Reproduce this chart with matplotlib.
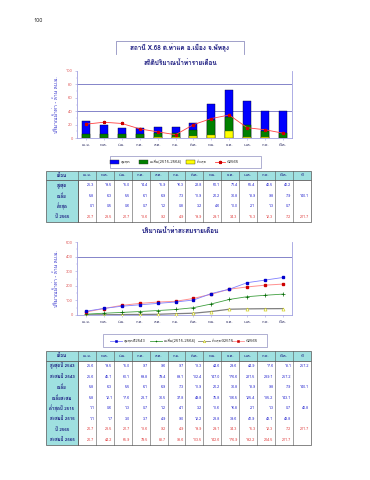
import numpy as np
import matplotlib
matplotlib.use("Agg")
import matplotlib.pyplot as plt
from matplotlib import font_manager as fm
from matplotlib.patches import Rectangle
from matplotlib.ft2font import FT2Font

# ---------------- data ----------------
months = ["เม.ย.", "พ.ค.", "มิ.ย.", "ก.ค.", "ส.ค.", "ก.ย.", "ต.ค.", "พ.ย.", "ธ.ค.", "ม.ค.", "ก.พ.", "มี.ค."]
max_monthly = [25.3, 19.5, 15.0, 14.4, 15.9, 16.3, 22.8, 50.1, 71.4, 55.4, 40.5, 40.2]
mean_monthly = [5.8, 6.3, 5.5, 6.1, 6.9, 7.3, 11.9, 26.2, 30.8, 18.9, 9.8, 7.9]
min_monthly = [0.1, 0.5, 0.6, 0.7, 1.2, 0.8, 3.2, 4.6, 10.0, 2.1, 1.3, 0.7]
y2565 = [20.7, 23.5, 21.7, 13.6, 9.2, 4.9, 19.9, 29.1, 34.3, 15.3, 12.3, 7.2]
mean_year = 140.1
y2565_year = 211.7

max2543 = [25.6, 19.5, 15.0, 9.7, 9.6, 9.7, 13.3, 44.6, 29.6, 44.9, 17.6, 18.1]
cum2543 = [25.6, 45.1, 60.1, 69.8, 79.4, 89.1, 102.4, 147.0, 176.6, 221.5, 239.1, 257.2]
cum_mean = [5.8, 12.1, 17.6, 23.7, 30.5, 37.8, 49.8, 75.8, 106.5, 125.4, 135.2, 143.1]
min2515 = [1.1, 0.6, 1.3, 0.7, 1.2, 4.1, 3.2, 11.6, 16.8, 2.1, 1.3, 0.7]
cum2515 = [1.1, 1.7, 3.0, 3.7, 4.9, 9.0, 12.2, 23.8, 39.6, 41.9, 43.1, 43.8]
cum2565 = [20.7, 44.2, 65.9, 79.5, 88.7, 93.6, 113.5, 142.6, 176.9, 192.2, 204.5, 211.7]
year2543 = 257.2
year2515 = 40.8

table1_labels = ["สูงสุด", "เฉลี่ย", "ต่ำสุด", "ปี 2565"]
table2_labels = ["สูงสุดปี 2543", "สะสมปี 2543", "เฉลี่ย", "เฉลี่ยสะสม",
                 "ต่ำสุดปี 2515", "สะสมปี 2515", "ปี 2565", "สะสมปี 2565"]

# ---------------- fonts ----------------
def find_thai_font():
    prefs = []
    for f in fm.fontManager.ttflist:
        try:
            cm = FT2Font(f.fname).get_charmap()
        except Exception:
            continue
        if 0x0E01 in cm and 0x0E31 in cm:
            prefs.append(f.name)
    for p in prefs:
        if "Thai" in p or "Tlwg" in p or "Loma" in p or "Garuda" in p:
            return p
    return prefs[0] if prefs else None

thai = find_thai_font()
fams = ([thai] if thai else []) + ["DejaVu Sans"]
plt.rcParams["font.family"] = fams

W, H = 370, 480
fig = plt.figure(figsize=(W / 100, H / 100), dpi=100)
fig.patch.set_facecolor("white")

def fx(x):
    return x / W

def fy(y):
    return 1 - y / H

ov = fig.add_axes([0, 0, 1, 1], zorder=5)
ov.set_xlim(0, W)
ov.set_ylim(H, 0)
ov.axis("off")
ov.patch.set_alpha(0)

navy = "#1a1a80"
ov.text(33, 21, "100", fontsize=4, color="#333333", ha="left", va="center")
ov.plot([116, 116, 244, 244], [54, 41, 41, 54], color="#9090c0", lw=0.6)
ov.text(180, 47.5, "สถานี X.68 ต.ท่าแค อ.เมือง จ.พัทลุง", fontsize=4.6, color=navy,
        ha="center", va="center", fontweight="bold")
ov.text(180, 63, "สถิติปริมาณน้ำท่ารายเดือน", fontsize=4.6, color=navy,
        ha="center", va="center", fontweight="bold")
ov.text(180, 231, "ปริมาณน้ำท่าสะสมรายเดือน", fontsize=4.6, color=navy,
        ha="center", va="center", fontweight="bold")

axis_col = "#a0a0e0"
grid_col = "#7070c0"
tick_col = "#e06060"

def style_axes(ax, ymax, step, glines):
    ax.set_xlim(-0.5, 11.5)
    ax.set_ylim(0, ymax)
    ax.set_yticks(np.arange(0, ymax + 1, step))
    ax.set_yticks(np.arange(0, ymax + 1, step / 2), minor=True)
    ax.spines["top"].set_visible(False)
    for s in ["left", "right", "bottom"]:
        ax.spines[s].set_color(axis_col)
        ax.spines[s].set_linewidth(0.6)
    for g in glines:
        ax.axhline(g, color=grid_col, lw=0.6, zorder=0)
    ax.set_xticks(range(12))
    ax.set_xticklabels(months)
    ax.tick_params(axis="y", labelsize=3, colors=tick_col, length=1.5, width=0.4, pad=1.5)
    ax.tick_params(axis="y", which="minor", length=1, width=0.3, color=axis_col)
    ax.tick_params(axis="x", labelsize=3, colors="#333366", length=1.5, width=0.4, pad=2)
    ax.tick_params(axis="both", color=axis_col)
    ax.set_ylabel("ปริมาณน้ำท่า - ล้าน ลบ.ม.", fontsize=3.6, color="#3333cc", labelpad=5)
    ax.patch.set_alpha(0)

# ---------------- chart 1 ----------------
ax1 = fig.add_axes([fx(77), fy(138), fx(292 - 77), (138 - 71) / H])
x = np.arange(12)
bw = 0.45
ax1.bar(x, max_monthly, width=bw, color="#0000ff", edgecolor="#000033", lw=0.3, zorder=2)
ax1.bar(x, mean_monthly, width=bw, color="#008000", edgecolor="#002200", lw=0.3, zorder=3)
ax1.bar(x, min_monthly, width=bw, color="#ffff00", edgecolor="#666600", lw=0.3, zorder=4)
ax1.plot(x, y2565, color="#ff4040", lw=0.6, marker="*", ms=2.2, mfc="#cc0000",
         mec="#cc0000", zorder=5)
style_axes(ax1, 100, 20, [40, 80])

ov.add_patch(Rectangle((110, 156), 151, 12, fill=False, ec="#9090c0", lw=0.5))
leg1 = [("patch", "#0000ff", "สูงสุด", 120),
        ("patch", "#008000", "เฉลี่ย(2515-2564)", 149),
        ("patch", "#ffff00", "ต่ำสุด", 196),
        ("line", "#ff4040", "ปี2565", 226)]
for kind, c, lab, lx in leg1:
    if kind == "patch":
        ov.add_patch(Rectangle((lx - 10, 159.5), 9, 4.5, fc=c, ec="#333333", lw=0.3))
    else:
        ov.plot([lx - 11, lx - 1], [162, 162], color=c, lw=0.6)
        ov.plot([lx - 6], [162], marker="*", ms=2.2, color="#cc0000")
    ov.text(lx + 0.5, 162, lab, fontsize=3, color="#333333", ha="left", va="center")

# ---------------- chart 2 ----------------
ax2 = fig.add_axes([fx(77), fy(315), fx(292 - 77), (315 - 242) / H])
ax2.plot(x, cum2515, color="#808080", lw=0.9, marker="^", ms=2.2, mfc="white",
         mec="#c8c800", mew=0.4, zorder=3)
ax2.plot(x, cum_mean, color="#40a040", lw=0.6, marker="+", ms=2.2, mec="#006600",
         mew=0.5, zorder=4)
ax2.plot(x, cum2565, color="#ff9090", lw=0.7, marker="s", ms=1.6, mfc="#cc0000",
         mec="#cc0000", zorder=5)
ax2.plot(x, cum2543, color="#8080ff", lw=0.6, marker="s", ms=1.6, mfc="#0000cc",
         mec="#0000cc", zorder=6)
style_axes(ax2, 500, 100, [400])

ov.add_patch(Rectangle((103, 334), 164, 13, fill=False, ec="#9090c0", lw=0.5))
leg2 = [("#8080ff", "s", "#0000cc", "white", "สูงสุดปี2543", 124),
        ("#40a040", "+", "#006600", "none", "เฉลี่ย(2515-2564)", 164),
        ("#808080", "^", "#c8c800", "white", "ต่ำสุดปี2515", 212),
        ("#ff9090", "s", "#cc0000", "#cc0000", "ปี2565", 246)]
for lc, mk, mc, mf, lab, lx in leg2:
    ov.plot([lx - 14, lx - 2], [340.5, 340.5], color=lc, lw=0.6)
    ov.plot([lx - 8], [340.5], marker=mk, ms=1.8, mec=mc,
            mfc=(mc if mk == "s" else mf), mew=0.4)
    ov.text(lx, 340.5, lab, fontsize=3, color="#333333", ha="left", va="center")

# ---------------- tables ----------------
head_bg = "#9fe0e0"
border = "#555555"
x0, lab_w, col_w = 46, 32, 17.9

def fmt(v):
    return "" if v is None else f"{v:.1f}"

def draw_table(top, head_h, row_h, labels, rows, row_colors, year_vals, year_rows):
    ncol = 13
    total_w = lab_w + col_w * ncol
    nrows = len(labels)
    ov.add_patch(Rectangle((x0, top), total_w, head_h, fc=head_bg, ec=border, lw=0.5))
    ov.add_patch(Rectangle((x0, top + head_h), lab_w, row_h * nrows, fc=head_bg, ec=border, lw=0.5))
    ov.add_patch(Rectangle((x0 + lab_w, top + head_h), col_w * ncol, row_h * nrows,
                           fc="white", ec=border, lw=0.5))
    ov.text(x0 + lab_w / 2, top + head_h / 2, "เดือน", fontsize=3.2, color=navy,
            ha="center", va="center", fontweight="bold")
    heads = months + ["ปี"]
    for j, hname in enumerate(heads):
        cx = x0 + lab_w + col_w * j
        ov.plot([cx, cx], [top, top + head_h + row_h * nrows], color=border, lw=0.4)
        ov.text(cx + col_w / 2, top + head_h / 2, hname, fontsize=3, color=navy,
                ha="center", va="center")
    for i, lab in enumerate(labels):
        cy = top + head_h + row_h * (i + 0.5)
        ov.text(x0 + lab_w / 2, cy, lab, fontsize=3.2, color=navy, ha="center",
                va="center", fontweight="bold")
        for j, v in enumerate(rows[i]):
            ov.text(x0 + lab_w + col_w * (j + 1) - 1.5, cy, fmt(v), fontsize=2.7,
                    color=row_colors[i], ha="right", va="center")
    for r, yv in zip(year_rows, year_vals):
        cy = top + head_h + row_h * (r + 0.5)
        ov.text(x0 + lab_w + col_w * 13 - 1.5, cy, fmt(yv), fontsize=2.7,
                color=row_colors[r], ha="right", va="center")

blue_t = "#2a2ad0"
red_t = "#e04040"
draw_table(171, 9, 10.5, table1_labels,
           [max_monthly, mean_monthly, min_monthly, y2565],
           [blue_t, blue_t, blue_t, red_t],
           [mean_year, y2565_year], [1, 3])

draw_table(351, 10, 10.5, table2_labels,
           [max2543, cum2543, mean_monthly, cum_mean, min2515, cum2515, y2565, cum2565],
           [blue_t, blue_t, blue_t, blue_t, blue_t, blue_t, red_t, red_t],
           [year2543, mean_year, year2515, y2565_year],
           [0, 2, 4, 6])

fig.savefig("out.png", dpi=100, facecolor="white")
